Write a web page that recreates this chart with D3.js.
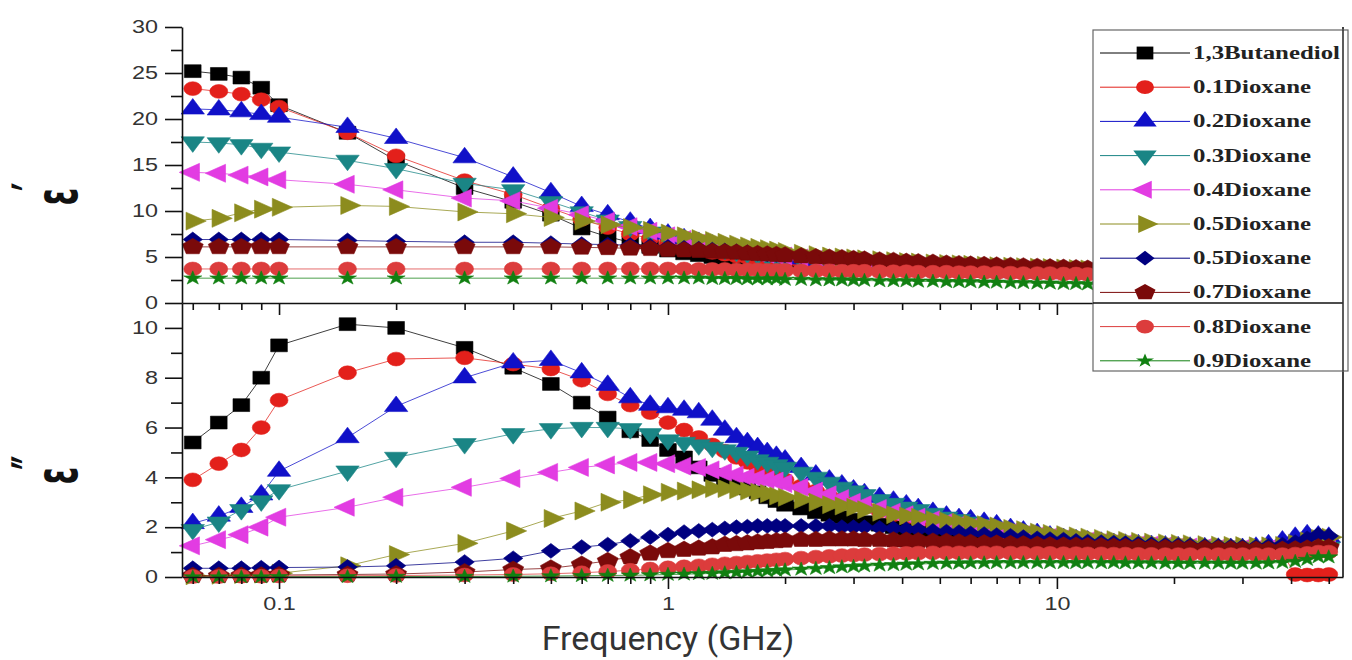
<!DOCTYPE html>
<html>
<head>
<meta charset="utf-8">
<title>Dielectric spectra</title>
<script src="https://cdn.jsdelivr.net/npm/d3@7"></script>
<style>
	body { margin:0; background:#fff; }
	svg { display:block; }
	.axis path, .axis line { stroke:#111; stroke-width:1.6; }
	.axis text { font-family:"Liberation Sans", Arial, sans-serif; font-size:18px; fill:#333; }
	.legend text { font-family:"Liberation Serif", "Times New Roman", serif; font-weight:bold; font-size:18px; fill:#222; }
	.title { font-family:Roboto, "Open Sans", sans-serif; font-size:34px; fill:#333; }
	.ytitle { font-family:"DejaVu Sans", sans-serif; font-weight:bold; font-size:40px; fill:#111; }
</style>
</head>
<body>
<svg width="1352" height="660"></svg>
<script>
const svg = d3.select("svg")

//frequency points (GHz)
const freq = [0.06,0.07,0.08,0.09,0.1,0.15,0.2,0.3,0.4,0.5,0.6,0.7,0.8,0.9,
	1,1.1,1.2,1.3,1.4,1.5,1.6,1.7,1.8,1.9,2,
	2.2,2.4,2.6,2.8,3,3.2,3.5,3.8,4.1,4.4,4.8,5.2,5.6,6,
	6.5,7,7.6,8.2,8.9,9.6,10.4,11.2,12,
	13,14,15,16.2,17.5,19,20.5,22,
	24,26,28,30,32.5,35,38,41,44,47,50]

const names = ["1,3Butanediol","0.1Dioxane","0.2Dioxane","0.3Dioxane","0.4Dioxane","0.5Dioxane","0.5Dioxane","0.7Dioxane","0.8Dioxane","0.9Dioxane"]
const colors = ["#000000","#e3201b","#1010c8","#1a8585","#e23ce2","#8c8c1e","#000080","#7a0a0a","#dc3c3c","#118011"]
const shapes = ["square","circle","up","down","left","right","diamond","pentagon","circle","star"]

const yTopTicks = [0,5,10,15,20,25,30]
const yTopMinor = [2.5,7.5,12.5,17.5,22.5,27.5]
const yBotTicks = [0,2,4,6,8,10]
const yBotMinor = [1,3,5,7,9]
const xTicks = [0.1,1,10]
const xMinor = [0.06,0.07,0.08,0.09,0.2,0.3,0.4,0.5,0.6,0.7,0.8,0.9,2,3,4,5,6,7,8,9,20,30,40,50]

//real part (top panel)
const e1_bd = [25.2,24.9,24.5,23.4,21.5,18.5,15.5,12.5,11.0,9.6,8.1,7.2,6.6,6.1,
	5.7,5.4,5.2,5.0,4.8,4.7,4.6,4.5,4.4,4.35,4.3,
	4.2,4.1,4.05,4.0,3.95,3.9,3.85,3.8,3.75,3.7,3.65,3.6,3.6,3.55,
	3.5,3.5,3.45,3.45,3.4,3.4,3.35,3.35,3.3,
	3.3,3.25,3.25,3.2,3.2,3.15,3.15,3.1,
	3.1,3.1,3.05,3.05,3.0,3.0,3.0,2.95,2.95,2.9,2.9]
const e1_d1 = [23.3,23.0,22.7,22.1,21.3,18.5,16.0,13.3,11.8,10.3,9.1,8.2,7.5,7.0,
	6.5,6.1,5.8,5.5,5.3,5.1,4.95,4.8,4.7,4.6,4.5,
	4.4,4.3,4.2,4.15,4.1,4.05,4.0,3.95,3.9,3.85,3.8,3.75,3.7,3.7,
	3.65,3.6,3.6,3.55,3.5,3.5,3.45,3.45,3.4,
	3.4,3.35,3.35,3.3,3.3,3.25,3.25,3.2,
	3.2,3.2,3.15,3.15,3.1,3.1,3.1,3.05,3.05,3.0,3.0]
const e1_d2 = [21.1,21.0,20.8,20.5,20.2,19.1,17.9,15.8,13.7,12.0,10.5,9.6,8.8,8.1,
	7.5,7.0,6.6,6.3,6.0,5.8,5.6,5.4,5.25,5.1,5.0,
	4.8,4.65,4.55,4.45,4.35,4.25,4.15,4.05,4.0,3.95,3.9,3.85,3.8,3.75,
	3.7,3.65,3.6,3.6,3.55,3.5,3.5,3.45,3.45,
	3.4,3.4,3.35,3.35,3.3,3.3,3.25,3.25,
	3.2,3.2,3.15,3.15,3.1,3.1,3.1,3.05,3.05,3.0,3.0]
const e1_d3 = [17.5,17.4,17.2,16.8,16.4,15.5,14.6,13.0,12.3,11.0,9.9,9.0,8.3,7.7,
	7.1,6.7,6.3,6.0,5.8,5.6,5.4,5.25,5.1,5.0,4.9,
	4.7,4.6,4.5,4.4,4.3,4.2,4.1,4.05,4.0,3.95,3.9,3.85,3.8,3.75,
	3.7,3.65,3.6,3.6,3.55,3.5,3.5,3.45,3.45,
	3.4,3.4,3.35,3.35,3.3,3.3,3.25,3.25,
	3.2,3.2,3.15,3.15,3.1,3.1,3.1,3.05,3.05,3.0,3.0]
const e1_d4 = [14.2,14.1,13.9,13.7,13.4,12.9,12.3,11.4,11.1,10.3,9.6,8.9,8.3,7.8,
	7.3,6.9,6.5,6.2,6.0,5.8,5.6,5.45,5.3,5.2,5.1,
	4.9,4.75,4.6,4.5,4.4,4.3,4.2,4.1,4.05,4.0,3.95,3.9,3.85,3.8,
	3.75,3.7,3.65,3.6,3.6,3.55,3.5,3.5,3.45,
	3.45,3.4,3.4,3.35,3.35,3.3,3.3,3.25,
	3.25,3.2,3.2,3.15,3.15,3.1,3.1,3.1,3.05,3.05,3.0]
const e1_d5 = [8.9,9.2,9.8,10.2,10.4,10.6,10.5,9.9,9.7,9.3,8.9,8.5,8.2,7.9,
	7.6,7.3,7.0,6.8,6.6,6.4,6.2,6.05,5.9,5.75,5.6,
	5.4,5.25,5.1,5.0,4.9,4.8,4.7,4.6,4.5,4.45,4.35,4.3,4.25,4.2,
	4.1,4.05,4.0,3.95,3.9,3.85,3.8,3.75,3.7,
	3.65,3.6,3.55,3.5,3.5,3.45,3.4,3.4,
	3.35,3.3,3.3,3.25,3.25,3.2,3.2,3.15,3.15,3.1,3.1]
const e1_d6 = [6.9,6.9,6.9,6.9,6.9,6.8,6.7,6.6,6.6,6.5,6.4,6.35,6.3,6.2,
	6.1,6.0,5.9,5.8,5.7,5.6,5.5,5.4,5.3,5.25,5.2,
	5.1,5.0,4.9,4.8,4.75,4.7,4.6,4.5,4.45,4.4,4.3,4.25,4.2,4.15,
	4.1,4.05,4.0,3.95,3.9,3.85,3.8,3.75,3.7,
	3.65,3.6,3.6,3.55,3.5,3.5,3.45,3.45,
	3.4,3.4,3.35,3.35,3.3,3.3,3.3,3.25,3.25,3.2,3.2]
const e1_d7 = [6.1,6.1,6.1,6.1,6.1,6.1,6.1,6.1,6.1,6.1,6.05,6.0,5.95,5.9,
	5.8,5.75,5.7,5.6,5.55,5.5,5.4,5.35,5.3,5.25,5.2,
	5.1,5.0,4.95,4.9,4.8,4.75,4.65,4.6,4.5,4.45,4.4,4.3,4.25,4.2,
	4.15,4.1,4.05,4.0,3.95,3.9,3.85,3.8,3.75,
	3.7,3.7,3.65,3.6,3.6,3.55,3.55,3.5,
	3.5,3.45,3.45,3.4,3.4,3.4,3.35,3.35,3.3,3.3,3.3]
const e1_d8 = [3.7,3.7,3.7,3.7,3.7,3.7,3.7,3.7,3.7,3.7,3.7,3.7,3.7,3.7,
	3.7,3.7,3.65,3.65,3.65,3.6,3.6,3.6,3.55,3.55,3.55,
	3.5,3.5,3.5,3.45,3.45,3.45,3.4,3.4,3.4,3.35,3.35,3.35,3.3,3.3,
	3.3,3.25,3.25,3.2,3.2,3.2,3.15,3.15,3.1,
	3.1,3.05,3.05,3.0,3.0,2.95,2.95,2.9,
	2.9,2.85,2.85,2.8,2.8,2.8,2.75,2.75,2.7,2.7,2.7]
const e1_d9 = [2.7,2.7,2.7,2.7,2.7,2.7,2.7,2.7,2.7,2.7,2.7,2.7,2.7,2.7,
	2.7,2.7,2.7,2.65,2.65,2.65,2.6,2.6,2.6,2.6,2.55,
	2.55,2.5,2.5,2.5,2.45,2.45,2.4,2.4,2.4,2.35,2.35,2.3,2.3,2.3,
	2.25,2.25,2.2,2.2,2.15,2.15,2.1,2.1,2.05,
	2.05,2.0,2.0,1.95,1.95,1.9,1.9,1.85,
	1.85,1.8,1.8,1.75,1.75,1.7,1.7,1.65,1.65,1.6,1.6]

//loss part (bottom panel)
const e2_bd = [5.4,6.2,6.9,8.0,9.3,10.15,10.0,9.2,8.4,7.75,7.0,6.4,5.85,5.5,
	5.1,4.8,4.4,4.1,3.9,3.7,3.55,3.4,3.2,3.05,2.9,
	2.75,2.6,2.5,2.4,2.3,2.2,2.1,2.0,1.9,1.85,1.8,1.7,1.65,1.6,
	1.55,1.5,1.45,1.42,1.38,1.35,1.32,1.3,1.28,
	1.25,1.23,1.2,1.18,1.16,1.14,1.12,1.1,
	1.1,1.08,1.08,1.06,1.06,1.05,1.05,1.1,1.15,1.2,1.25]
const e2_d1 = [3.9,4.55,5.1,6.0,7.1,8.2,8.75,8.8,8.55,8.35,7.9,7.35,6.9,6.6,
	6.2,5.9,5.6,5.3,5.05,4.8,4.6,4.4,4.2,4.05,3.9,
	3.65,3.45,3.25,3.1,2.95,2.8,2.65,2.5,2.4,2.3,2.2,2.1,2.0,1.95,
	1.85,1.8,1.7,1.65,1.6,1.55,1.5,1.45,1.4,
	1.35,1.32,1.3,1.27,1.24,1.2,1.18,1.15,
	1.12,1.1,1.08,1.05,1.0,1.0,0.95,0.1,0.08,0.08,0.1]
const e2_d2 = [2.15,2.45,2.8,3.3,4.25,5.6,6.85,8.0,8.6,8.7,8.2,7.7,7.2,6.9,
	6.8,6.7,6.6,6.3,5.9,5.6,5.4,5.2,5.0,4.85,4.7,
	4.4,4.1,3.9,3.7,3.5,3.35,3.2,3.05,2.9,2.75,2.6,2.45,2.35,2.3,
	2.2,2.1,1.95,1.85,1.75,1.65,1.55,1.5,1.45,
	1.4,1.35,1.32,1.3,1.27,1.25,1.22,1.2,
	1.18,1.16,1.15,1.15,1.2,1.3,1.45,1.6,1.7,1.65,1.6]
const e2_d3 = [1.9,2.2,2.7,3.05,3.5,4.25,4.8,5.35,5.75,5.95,6.0,6.0,5.95,5.75,
	5.5,5.4,5.3,5.2,5.1,5.0,4.85,4.7,4.6,4.5,4.4,
	4.2,4.0,3.8,3.6,3.45,3.3,3.1,2.95,2.8,2.7,2.55,2.4,2.3,2.2,
	2.1,2.0,1.9,1.8,1.7,1.62,1.55,1.5,1.45,
	1.4,1.36,1.32,1.3,1.27,1.25,1.22,1.2,
	1.18,1.16,1.15,1.14,1.13,1.13,1.15,1.2,1.25,1.25,1.2]
const e2_d4 = [1.25,1.5,1.7,2.0,2.4,2.8,3.2,3.6,3.95,4.2,4.4,4.5,4.6,4.6,
	4.55,4.45,4.4,4.3,4.2,4.1,4.0,3.95,3.9,3.85,3.75,
	3.6,3.45,3.3,3.15,3.0,2.9,2.75,2.6,2.5,2.4,2.3,2.2,2.1,2.0,
	1.95,1.85,1.8,1.7,1.65,1.6,1.55,1.5,1.45,
	1.4,1.37,1.34,1.3,1.28,1.25,1.22,1.2,
	1.18,1.16,1.15,1.14,1.13,1.13,1.15,1.2,1.25,1.3,1.3]
const e2_d5 = [0.05,0.07,0.1,0.12,0.15,0.45,0.9,1.35,1.85,2.35,2.65,3.0,3.1,3.3,
	3.4,3.45,3.5,3.55,3.55,3.5,3.45,3.4,3.35,3.25,3.2,
	3.1,3.0,2.9,2.85,2.8,2.7,2.6,2.5,2.45,2.4,2.3,2.25,2.2,2.15,
	2.1,2.05,1.95,1.9,1.8,1.75,1.7,1.65,1.6,
	1.55,1.5,1.47,1.43,1.4,1.37,1.35,1.33,
	1.3,1.28,1.27,1.26,1.25,1.25,1.27,1.35,1.45,1.55,1.6]
const e2_d6 = [0.35,0.35,0.35,0.37,0.38,0.4,0.45,0.6,0.75,1.05,1.2,1.3,1.45,1.6,
	1.7,1.8,1.85,1.9,1.95,2.0,2.02,2.05,2.05,2.05,2.05,
	2.05,2.05,2.05,2.0,2.0,2.0,1.97,1.95,1.92,1.9,1.85,1.82,1.8,1.75,
	1.72,1.68,1.65,1.6,1.55,1.52,1.5,1.45,1.42,
	1.4,1.38,1.36,1.34,1.32,1.3,1.28,1.27,
	1.25,1.24,1.23,1.22,1.22,1.25,1.3,1.4,1.55,1.7,1.65]
const e2_d7 = [0.05,0.05,0.06,0.07,0.08,0.1,0.12,0.2,0.3,0.35,0.5,0.65,0.8,0.95,
	1.05,1.1,1.15,1.2,1.3,1.33,1.36,1.4,1.42,1.45,1.47,
	1.5,1.5,1.52,1.52,1.52,1.5,1.5,1.48,1.47,1.45,1.43,1.42,1.4,1.38,
	1.36,1.35,1.33,1.32,1.3,1.28,1.27,1.26,1.25,
	1.24,1.22,1.21,1.2,1.18,1.17,1.16,1.15,
	1.14,1.13,1.12,1.11,1.1,1.1,1.1,1.12,1.15,1.2,1.2]
const e2_d8 = [0.02,0.02,0.03,0.03,0.04,0.05,0.06,0.08,0.1,0.13,0.17,0.22,0.27,0.32,
	0.37,0.41,0.45,0.49,0.53,0.56,0.6,0.63,0.66,0.69,0.72,
	0.76,0.8,0.83,0.86,0.88,0.9,0.92,0.94,0.95,0.96,0.97,0.97,0.97,0.97,
	0.97,0.97,0.96,0.96,0.95,0.95,0.94,0.94,0.93,
	0.93,0.92,0.92,0.91,0.91,0.9,0.9,0.9,
	0.9,0.9,0.9,0.9,0.9,0.9,0.9,0.92,0.95,1.0,1.0]
const e2_d9 = [0,0,0,0,0.01,0.01,0.02,0.02,0.03,0.04,0.05,0.06,0.07,0.08,
	0.1,0.11,0.13,0.14,0.16,0.18,0.2,0.22,0.24,0.26,0.28,
	0.31,0.34,0.37,0.4,0.42,0.44,0.47,0.49,0.51,0.52,0.54,0.55,0.55,0.56,
	0.56,0.57,0.57,0.57,0.57,0.57,0.57,0.57,0.57,
	0.57,0.57,0.56,0.56,0.56,0.55,0.55,0.55,
	0.55,0.55,0.55,0.55,0.55,0.56,0.58,0.62,0.7,0.8,0.8]

const realData = [e1_bd,e1_d1,e1_d2,e1_d3,e1_d4,e1_d5,e1_d6,e1_d7,e1_d8,e1_d9]
const lossData = [e2_bd,e2_d1,e2_d2,e2_d3,e2_d4,e2_d5,e2_d6,e2_d7,e2_d8,e2_d9]


//scales
const x = d3.scaleLog()
	.domain([0.0563, 54.4])
	.range([182, 1343])

const yTop = d3.scaleLinear()
	.domain([0, 30])
	.range([303, 27])

const yBot = d3.scaleLinear()
	.domain([0, 11])
	.range([577, 303])


//marker shapes
const pentagon = d3.line()(d3.range(5).map(k => {
	const a = -Math.PI/2 + k*2*Math.PI/5
	return [8.5*Math.cos(a), 8.5*Math.sin(a)]
})) + "Z"

function markerD(s) {
	if (s == "square") return d3.symbol(d3.symbolSquare, 165)()
	if (s == "circle") return d3.symbol(d3.symbolCircle, 150)()
	if (s == "diamond") return d3.symbol(d3.symbolSquare, 110)()
	if (s == "pentagon") return pentagon
	if (s == "star") return d3.symbol(d3.symbolStar, 60)()
	return d3.symbol(d3.symbolTriangle, 140)()
}

function markerRot(s) {
	if (s == "down") return 180
	if (s == "left") return -90
	if (s == "right") return 90
	if (s == "diamond") return 45
	return 0
}


//draw one panel, series in legend order
function drawPanel(values, y) {
	const g = svg.append("g")
	values.forEach((vals, i) => {
		const pts = freq.map((f, j) => [f, vals[j]])
		const line = d3.line()
			.x(d => x(d[0]))
			.y(d => y(d[1]))

		g.append("path")
			.datum(pts)
			.attr("d", line)
			.attr("fill", "none")
			.attr("stroke", colors[i])
			.attr("stroke-width", 1)
			.attr("stroke-opacity", 0.75)

		g.append("g")
			.selectAll("path")
			.data(pts)
			.enter()
			.append("path")
			.attr("d", markerD(shapes[i]))
			.attr("transform", d => `translate(${x(d[0])},${y(d[1])}) scale(1.3,1) rotate(${markerRot(shapes[i])})`)
			.attr("fill", colors[i])
			.attr("stroke", colors[i])
			.attr("stroke-width", 0.5)
	})
}

drawPanel(realData, yTop)
drawPanel(lossData, yBot)


//y axes
function yAxis(scale, major, minor) {
	const g = svg.append("g")
		.attr("class", "axis")
		.attr("transform", "translate(182,0)")
		.call(d3.axisLeft(scale).tickValues(major).tickSize(17).tickSizeOuter(0))
	g.selectAll("text")
		.attr("x", 0)
		.attr("transform", "translate(-24,0) scale(1.3,1)")
	svg.append("g")
		.attr("class", "axis")
		.attr("transform", "translate(182,0)")
		.call(d3.axisLeft(scale).tickValues(minor).tickSize(11).tickFormat(""))
		.select(".domain").remove()
}

yAxis(yTop, yTopTicks, yTopMinor)
yAxis(yBot, yBotTicks, yBotMinor)


//x axes: divider between panels and the bottom one
svg.append("g")
	.attr("class", "axis")
	.attr("transform", "translate(0,303)")
	.call(d3.axisBottom(x).tickValues(xTicks).tickSize(12).tickSizeOuter(0).tickFormat(""))
svg.append("g")
	.attr("class", "axis")
	.attr("transform", "translate(0,303)")
	.call(d3.axisBottom(x).tickValues(xMinor).tickSize(7).tickFormat(""))
	.select(".domain").remove()

const xb = svg.append("g")
	.attr("class", "axis")
	.attr("transform", "translate(0,577)")
	.call(d3.axisBottom(x).tickValues(xTicks).tickSize(12).tickPadding(8).tickSizeOuter(0).tickFormat(d => d))
xb.selectAll("text")
	.attr("transform", "scale(1.3,1)")
svg.append("g")
	.attr("class", "axis")
	.attr("transform", "translate(0,577)")
	.call(d3.axisBottom(x).tickValues(xMinor).tickSize(7).tickFormat(""))
	.select(".domain").remove()

//right frame
svg.append("line")
	.attr("x1", 1343).attr("x2", 1343)
	.attr("y1", 27).attr("y2", 577)
	.attr("stroke", "#111")
	.attr("stroke-width", 1.6)


//legend
const legend = svg.append("g")
	.attr("class", "legend")

legend.append("rect")
	.attr("x", 1093)
	.attr("y", 30)
	.attr("width", 255)
	.attr("height", 341)
	.attr("fill", "#fff")
	.attr("stroke", "#666")
	.attr("stroke-width", 1.2)

const rows = legend.selectAll("g.row")
	.data(names)
	.enter()
	.append("g")
	.attr("class", "row")
	.attr("transform", (d, i) => `translate(0,${53 + i*34.2})`)

rows.append("line")
	.attr("x1", 1100)
	.attr("x2", 1190)
	.attr("stroke", (d, i) => colors[i])
	.attr("stroke-width", 1)

rows.append("path")
	.attr("d", (d, i) => markerD(shapes[i]))
	.attr("transform", (d, i) => `translate(1145,0) scale(1.3,1) rotate(${markerRot(shapes[i])})`)
	.attr("fill", (d, i) => colors[i])

rows.append("text")
	.attr("transform", "translate(1193,6) scale(1.38,1)")
	.text(d => d)

//divider line runs over the legend
svg.append("line")
	.attr("x1", 1093).attr("x2", 1343)
	.attr("y1", 303).attr("y2", 303)
	.attr("stroke", "#111")
	.attr("stroke-width", 1.6)
svg.append("line")
	.attr("x1", 1343).attr("x2", 1343)
	.attr("y1", 30).attr("y2", 371)
	.attr("stroke", "#333")
	.attr("stroke-width", 1.6)


//titles
svg.append("text")
	.attr("class", "title")
	.attr("x", 668)
	.attr("y", 650)
	.attr("text-anchor", "middle")
	.text("Frequency (GHz)")

function yTitle(cy, primes) {
	const t = svg.append("text")
		.attr("class", "ytitle")
		.attr("transform", `translate(77,${cy}) rotate(-90) scale(0.8,1.45)`)
		.attr("text-anchor", "middle")
	t.append("tspan").text("ε")
	t.append("tspan").attr("dx", -4).attr("dy", -16).text(primes)
}

yTitle(194, "′")
yTitle(470, "″")
</script>
</body>
</html>
